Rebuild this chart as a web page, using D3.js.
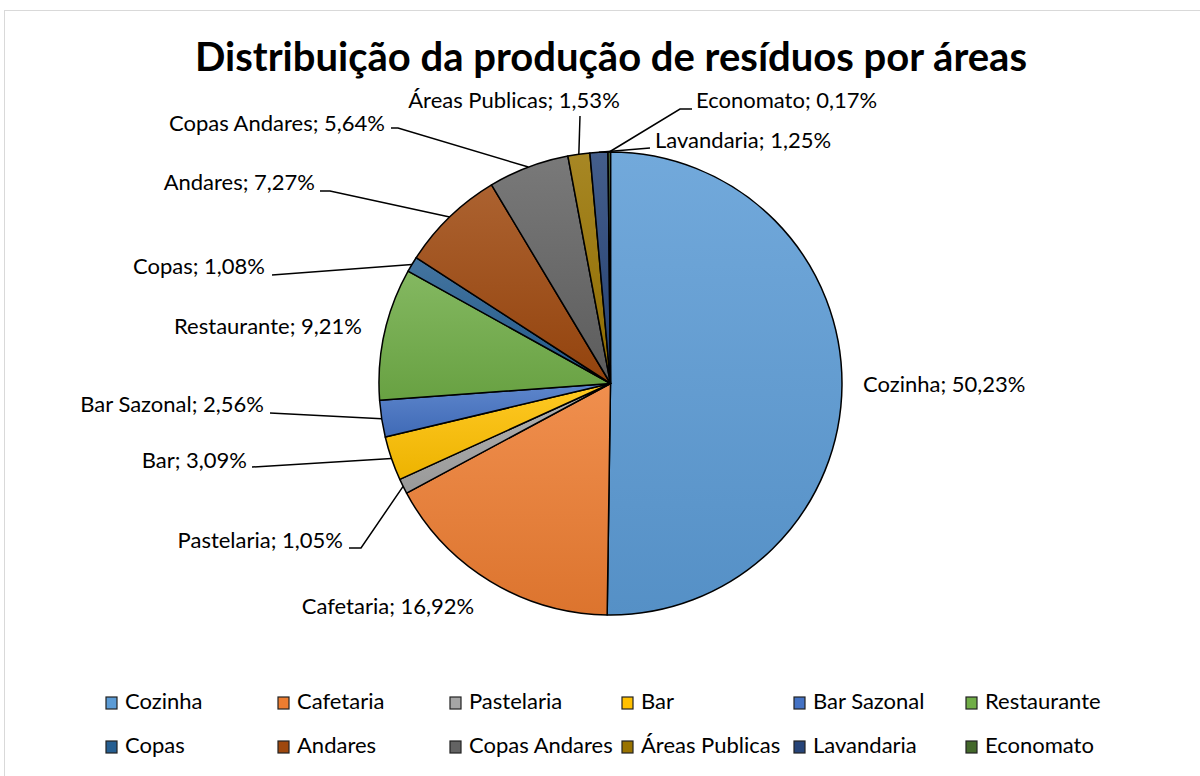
<!DOCTYPE html>
<html>
<head>
<meta charset="utf-8">
<script src="https://cdn.jsdelivr.net/npm/d3@7"></script>
<style>
  body { margin: 0; background: #fff; }
  text { font-family: Lato, "Open Sans", sans-serif; fill: #000; }
</style>
</head>
<body>
<div id="chart"></div>
<script>
// Data
const areas = ["Cozinha", "Cafetaria", "Pastelaria", "Bar", "Bar Sazonal", "Restaurante",
               "Copas", "Andares", "Copas Andares", "Áreas Publicas", "Lavandaria", "Economato"];
const shares = [50.23, 16.92, 1.05, 3.09, 2.56, 9.21, 1.08, 7.27, 5.64, 1.53, 1.25, 0.17];
const colors = ["#5b9bd5", "#ed7d31", "#a5a5a5", "#ffc000", "#4472c4", "#70ad47",
                "#255e91", "#9e480e", "#636363", "#997300", "#264478", "#43682b"];

const data = areas.map((a, i) => ({area: a, value: shares[i]}));

// Dimensions
let width = 1200, height = 776;
let cx = 610.5, cy = 383.5, radius = 231.5;

let svg = d3.select("#chart")
            .append("svg")
            .attr("width", width)
            .attr("height", height);

// chart border
svg.append("rect")
   .attr("x", 4.5).attr("y", 10.5)
   .attr("width", 1210).attr("height", 800)
   .attr("fill", "white")
   .attr("stroke", "#d9d9d9");

// Title
svg.append("text")
   .attr("x", 611)
   .attr("y", 71)
   .attr("text-anchor", "middle")
   .style("font-size", "40px")
   .style("font-weight", "bold")
   .text("Distribuição da produção de resíduos por áreas");

// gradients, lighter on top, darker below
const defs = svg.append("defs");
colors.forEach((c, i) => {
  const g = defs.append("linearGradient")
                .attr("id", "grad" + i)
                .attr("x1", 0).attr("y1", 0).attr("x2", 0).attr("y2", 1);
  g.append("stop").attr("offset", "0%").attr("stop-color", d3.interpolateRgb(c, "#ffffff")(0.14));
  g.append("stop").attr("offset", "100%").attr("stop-color", d3.interpolateRgb(c, "#000000")(0.07));
});

const color = d3.scaleOrdinal().domain(areas).range(areas.map((a, i) => `url(#grad${i})`));

const pie = d3.pie().value(d => d.value).sort(null);
const arc = d3.arc().innerRadius(0).outerRadius(radius);
const arcs = pie(data);

const g = svg.append("g").attr("transform", `translate(${cx},${cy})`);

g.selectAll("path")
 .data(arcs)
 .enter()
 .append("path")
 .attr("d", arc)
 .attr("fill", d => color(d.data.area))
 .attr("stroke", "black")
 .attr("stroke-width", 1.5)
 .attr("stroke-linejoin", "round");

// Label layout (where Excel placed each label, plus elbow of leader line)
const labelLayout = {
  "Cozinha":        {x: 863, y: 386, anchor: "start"},
  "Cafetaria":      {x: 388, y: 608, anchor: "middle"},
  "Pastelaria":     {x: 343, y: 542, anchor: "end",   leader: [[349, 548], [361, 548]]},
  "Bar":            {x: 247, y: 462, anchor: "end",   leader: [[252, 467]]},
  "Bar Sazonal":    {x: 264, y: 406, anchor: "end",   leader: [[270, 413]]},
  "Restaurante":    {x: 268, y: 328, anchor: "middle"},
  "Copas":          {x: 265, y: 268, anchor: "end",   leader: [[272, 275]]},
  "Andares":        {x: 315, y: 184, anchor: "end",   leader: [[320, 191], [330, 191]]},
  "Copas Andares":  {x: 385, y: 125, anchor: "end",   leader: [[391, 128], [398, 128]]},
  "Áreas Publicas": {x: 514, y: 102, anchor: "middle", leader: [[580, 116]]},
  "Lavandaria":     {x: 655, y: 142, anchor: "start", leader: [[650, 148]]},
  "Economato":      {x: 696, y: 102, anchor: "start", leader: [[692, 109], [680, 109]]}
};

const fmt = v => v.toFixed(2).replace(".", ",") + "%";

arcs.forEach(d => {
  const L = labelLayout[d.data.area];
  if (L.leader) {
    const a = (d.startAngle + d.endAngle) / 2;
    const end = [cx + radius * Math.sin(a), cy - radius * Math.cos(a)];
    const pts = L.leader.concat([end]);
    svg.append("path")
       .attr("d", d3.line()(pts))
       .attr("fill", "none")
       .attr("stroke", "black")
       .attr("stroke-width", 1.5);
  }
  svg.append("text")
     .attr("x", L.x)
     .attr("y", L.y)
     .attr("text-anchor", L.anchor)
     .attr("dominant-baseline", "middle")
     .style("font-size", "22px")
     .text(d.data.area + "; " + fmt(d.data.value));
});

// Legend
const legend = svg.append("g");
areas.forEach((a, i) => {
  const col = i % 6, row = Math.floor(i / 6);
  const x = 106 + col * 172, y = 703 + row * 44;
  legend.append("rect")
        .attr("x", x).attr("y", y - 6)
        .attr("width", 11).attr("height", 12)
        .attr("fill", colors[i])
        .attr("stroke", "#222")
        .attr("stroke-width", 1.2);
  legend.append("text")
        .attr("x", x + 19)
        .attr("y", y)
        .attr("dominant-baseline", "middle")
        .style("font-size", "22px")
        .text(a);
});
</script>
</body>
</html>
